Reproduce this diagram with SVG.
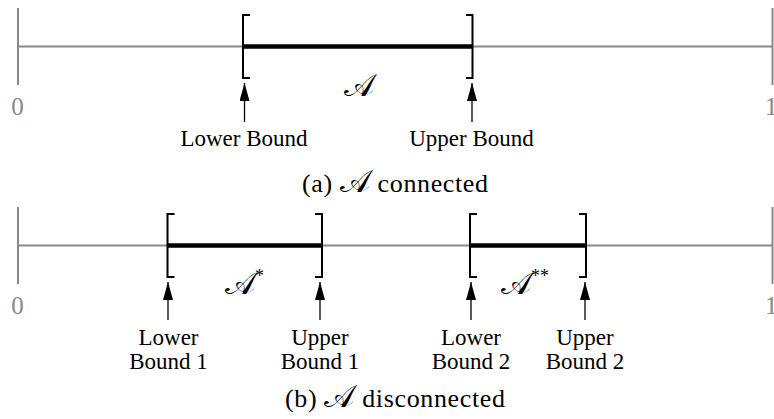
<svg xmlns="http://www.w3.org/2000/svg" width="774" height="419" viewBox="0 0 774 419">
<style>
.axis{stroke:#888;stroke-width:2;fill:none}
.seg{stroke:#000;stroke-width:4.5;fill:none}
.br{stroke:#000;stroke-width:2;fill:none}
.stem{stroke:#000;stroke-width:1.3;fill:none}
.lbl{font-family:"Liberation Serif","Times New Roman",serif;font-size:23px;fill:#000;text-anchor:middle}
.num{font-family:"Liberation Serif","Times New Roman",serif;font-size:25px;fill:#888}
.cap{font-family:"Liberation Serif","Times New Roman",serif;font-size:26px;fill:#000}
.cal{font-family:"DejaVu Serif","DejaVu Sans","Noto Sans",serif;font-size:32px;fill:#000}
.sup{font-family:"Liberation Serif","Times New Roman",serif;font-size:18px}
</style>
<defs>
<marker id="ah" viewBox="0 0 18 10" refX="18" refY="5" markerWidth="18" markerHeight="10" markerUnits="userSpaceOnUse" orient="auto">
<path d="M0,0 L18,5 L0,10 Z" fill="#000"/>
</marker>
</defs>
<g id="panel-a">
<g id="axis-a">
<line class="axis" x1="18" y1="46.5" x2="773" y2="46.5"/>
<line class="axis" x1="18" y1="8" x2="18" y2="85"/>
<line class="axis" x1="772.5" y1="8" x2="772.5" y2="85"/>
<text class="num" x="17.5" y="115" text-anchor="middle">0</text>
<text class="num" x="765" y="115">1</text>
</g>
<g id="interval-a">
<line class="seg" x1="243" y1="46.5" x2="472.5" y2="46.5"/>
<path class="br" d="M250,15 H243 V78 H250"/>
<path class="br" d="M466,15 H472.5 V78 H466"/>
<text class="cal" x="344" y="96">𝒜</text>
</g>
<g id="lower-a">
<text class="lbl" x="244" y="146">Lower Bound</text>
</g>
<g id="upper-a">
<text class="lbl" x="471.5" y="146">Upper Bound</text>
</g>
<text class="cap" x="302" y="192" textLength="186" lengthAdjust="spacing">(a) <tspan class="cal" font-size="30">𝒜</tspan> connected</text>
</g>
<g id="panel-b">
<g id="axis-b">
<line class="axis" x1="18" y1="245.5" x2="773" y2="245.5"/>
<line class="axis" x1="18" y1="207" x2="18" y2="284"/>
<line class="axis" x1="772.5" y1="207" x2="772.5" y2="284"/>
<text class="num" x="17.5" y="314" text-anchor="middle">0</text>
<text class="num" x="765" y="314">1</text>
</g>
<g id="interval-b1">
<line class="seg" x1="167.5" y1="245.5" x2="322" y2="245.5"/>
<path class="br" d="M174.5,214 H167.5 V277 H174.5"/>
<path class="br" d="M315,214 H322 V277 H315"/>
<text class="cal" x="225" y="294">𝒜<tspan class="sup" dy="-12">*</tspan></text>
</g>
<g id="interval-b2">
<line class="seg" x1="470" y1="245.5" x2="586" y2="245.5"/>
<path class="br" d="M477,214 H470 V277 H477"/>
<path class="br" d="M579,214 H586 V277 H579"/>
<text class="cal" x="501" y="294">𝒜<tspan class="sup" dy="-12">**</tspan></text>
</g>
<g id="lower-b1">
<text class="lbl" x="168.5" y="345">Lower</text>
<text class="lbl" x="168.5" y="369">Bound 1</text>
</g>
<g id="upper-b1">
<text class="lbl" x="320" y="345">Upper</text>
<text class="lbl" x="320" y="369">Bound 1</text>
</g>
<g id="lower-b2">
<text class="lbl" x="471" y="345">Lower</text>
<text class="lbl" x="471" y="369">Bound 2</text>
</g>
<g id="upper-b2">
<text class="lbl" x="585" y="345">Upper</text>
<text class="lbl" x="585" y="369">Bound 2</text>
</g>
<text class="cap" x="285" y="407" textLength="220" lengthAdjust="spacing">(b) <tspan class="cal" font-size="30">𝒜</tspan> disconnected</text>
</g>
<g id="connectors">
<line class="stem" x1="244.5" y1="122" x2="244.5" y2="83" marker-end="url(#ah)"/>
<line class="stem" x1="472" y1="122" x2="472" y2="83" marker-end="url(#ah)"/>
<line class="stem" x1="168" y1="320" x2="168" y2="282" marker-end="url(#ah)"/>
<line class="stem" x1="320" y1="320" x2="320" y2="282" marker-end="url(#ah)"/>
<line class="stem" x1="471" y1="320" x2="471" y2="282" marker-end="url(#ah)"/>
<line class="stem" x1="585" y1="320" x2="585" y2="282" marker-end="url(#ah)"/>
</g>
</svg>
